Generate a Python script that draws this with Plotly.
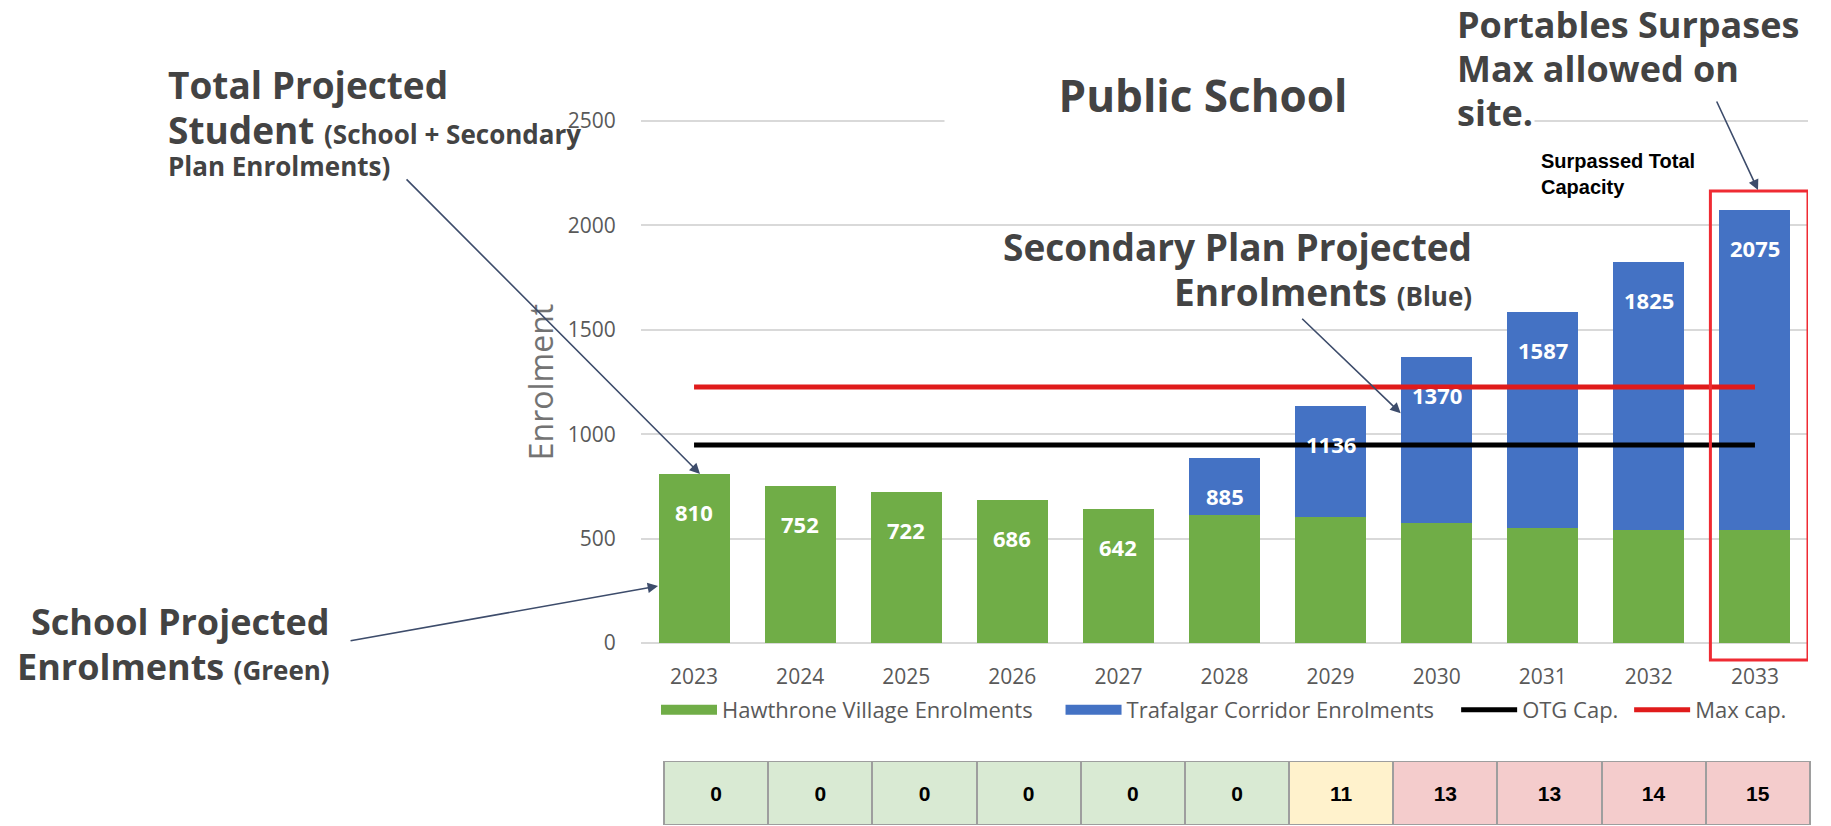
import plotly.graph_objects as go

W, H = 1831, 826

years = ["2023", "2024", "2025", "2026", "2027", "2028", "2029", "2030", "2031", "2032", "2033"]
hawthrone = [810, 752, 722, 686, 642, 613, 604, 575, 551, 541, 541]
trafalgar = [0, 0, 0, 0, 0, 272, 532, 795, 1036, 1284, 1534]
total_labels = [810, 752, 722, 686, 642, 885, 1136, 1370, 1587, 1825, 2075]
otg_cap = [948, 948, 948, 948, 948, 948, 948, 948, 948, 948, 948]
max_cap = [1226, 1226, 1226, 1226, 1226, 1226, 1226, 1226, 1226, 1226, 1226]
portables = [0, 0, 0, 0, 0, 0, 11, 13, 13, 14, 15]
portable_status = ["ok", "ok", "ok", "ok", "ok", "ok", "warn", "over", "over", "over", "over"]

GREEN = "#70AD47"
BLUE = "#4472C4"
STATUS_COLORS = {"ok": "#d9ead3", "warn": "#fff2cc", "over": "#f4cccc"}
TEXT_DARK = "#434343"
AXIS_GREY = "#595959"
BIG = "Open Sans"


def pad(n):
    # extra room between legend entries
    return "&nbsp;" * n


def px(x, y):
    # pixel position on the 1831x826 page -> paper fraction
    return x / W, 1 - y / H


fig = go.Figure()
fig.add_trace(go.Bar(x=years, y=hawthrone, name="Hawthrone Village Enrolments", marker_color=GREEN,
                     legendgroup="hv", showlegend=False))
fig.add_trace(go.Bar(x=years, y=trafalgar, name="Trafalgar Corridor Enrolments", marker_color=BLUE,
                     legendgroup="tc", showlegend=False))
# wide swatches for the bar series, like the Excel legend
fig.add_trace(go.Scatter(x=[None], y=[None], mode="lines", name="Hawthrone Village Enrolments" + pad(4),
                         legendgroup="hv", line=dict(color=GREEN, width=14)))
fig.add_trace(go.Scatter(x=[None], y=[None], mode="lines", name="Trafalgar Corridor Enrolments" + pad(3),
                         legendgroup="tc", line=dict(color=BLUE, width=14)))
fig.add_trace(go.Scatter(x=years, y=otg_cap, mode="lines", name="OTG Cap." + pad(1),
                         line=dict(color="black", width=5)))
fig.add_trace(go.Scatter(x=years, y=max_cap, mode="lines", name="Max cap.",
                         line=dict(color="#e01b1b", width=5)))

# portables table under the chart
fig.add_trace(
    go.Bar(
        x=years,
        y=[1] * len(years),
        width=1,
        text=portables,
        texttemplate="<b>%{text}</b>",
        textposition="inside",
        insidetextanchor="middle",
        textfont=dict(family="Liberation Sans", size=21, color="black"),
        marker=dict(color=[STATUS_COLORS[s] for s in portable_status],
                    line=dict(color="#9e9e9e", width=2)),
        xaxis="x2",
        yaxis="y2",
        showlegend=False,
        hoverinfo="skip",
    )
)

# value labels inside the bars (x given as category index: the years look numeric)
for i, val in enumerate(total_labels):
    fig.add_annotation(x=i, y=val, yshift=-38, text=f"<b>{val}</b>", showarrow=False,
                       font=dict(family=BIG, size=22, color="white"))

ann = []


def text(x, y, s, size, anchor="left", color=TEXT_DARK, family=BIG, **kw):
    xp, yp = px(x, y)
    ann.append(dict(xref="paper", yref="paper", x=xp, y=yp, text=s, showarrow=False,
                    xanchor=anchor, yanchor="middle", font=dict(family=family, size=size, color=color), **kw))


text(1203, 95, "<b>Public School</b>", 44, anchor="center", bgcolor="white", width=514)
text(166, 85, "<b>Total Projected</b>", 37)
text(166, 130, "<b>Student <span style='font-size:26px'>(School + Secondary</span></b>", 37)
text(166, 166, "<b>Plan Enrolments)</b>", 26)
text(1474, 246, "<b>Secondary Plan Projected</b>", 37, anchor="right")
text(1474, 291, "<b>Enrolments <span style='font-size:26px'>(Blue)</span></b>", 37, anchor="right")
text(332, 621, "<b>School Projected</b>", 36, anchor="right")
text(332, 666, "<b>Enrolments <span style='font-size:26px'>(Green)</span></b>", 36, anchor="right")
text(1455, 25, "<b>Portables Surpases</b>", 36)
text(1455, 69, "<b>Max allowed on</b>", 36)
text(1455, 113, "<b>site.</b>", 36, bgcolor="white")
text(1539, 174, "<b>Surpassed Total<br>Capacity</b>", 20, color="black", family="Liberation Sans", align="left")

ARROW = dict(showarrow=True, arrowhead=2, arrowsize=1.3, arrowwidth=1.6, arrowcolor="#3d4c6b",
             axref="pixel", ayref="pixel")
# total projected -> top of 2023 bar
ann.append(dict(x=0, y=810, xref="x", yref="y", xshift=6, ax=-295, ay=-296, text="", **ARROW))
# school projected -> green 2023 bar
ann.append(dict(x=0, y=273, xref="x", yref="y", xshift=-36, ax=-309, ay=55, text="", **ARROW))
# secondary plan -> blue 2030 bar
ann.append(dict(x=7, y=1100, xref="x", yref="y", xshift=-36, ax=-100, ay=-96, text="", **ARROW))
# portables -> red box
bx, by = px(1758, 190)
ann.append(dict(x=bx, y=by, xref="paper", yref="paper", ax=-42, ay=-90, text="", **ARROW))

for a in ann:
    fig.add_annotation(**a)

# red highlight box round 2033
fig.add_shape(type="rect", xref="x", yref="paper", x0=9.58, x1=10.5,
              y0=px(0, 660)[1], y1=px(0, 191)[1], line=dict(color="#ef2b33", width=3))

fig.update_layout(
    template="none",
    width=W,
    height=H,
    margin=dict(l=0, r=0, t=0, b=0),
    paper_bgcolor="white",
    plot_bgcolor="white",
    barmode="stack",
    bargap=0.33,
    font=dict(family=BIG, color=AXIS_GREY),
    showlegend=True,
    legend=dict(orientation="h", traceorder="normal", x=px(656, 0)[0], y=px(0, 710)[1],
                xanchor="left", yanchor="middle", itemwidth=56,
                font=dict(family=BIG, size=22, color=AXIS_GREY), bgcolor="rgba(0,0,0,0)"),
    xaxis=dict(domain=[641 / W, 1808 / W], type="category", range=[-0.5, 10.5], showgrid=False,
               zeroline=False, showline=False, ticks="outside", ticklen=13, tickcolor="rgba(0,0,0,0)",
               tickfont=dict(family=BIG, size=21, color=AXIS_GREY), automargin=False),
    yaxis=dict(domain=[px(0, 645.1)[1], px(0, 118.9)[1]], range=[-10, 2510], tick0=0, dtick=500,
               showgrid=True, gridcolor="#d9d9d9", gridwidth=1.5, zeroline=False, showline=False,
               ticks="outside", ticklen=20, tickcolor="rgba(0,0,0,0)",
               tickfont=dict(family=BIG, size=21, color=AXIS_GREY), automargin=False,
               title=dict(text="Enrolment", font=dict(family=BIG, size=32, color="#737373"), standoff=4)),
    xaxis2=dict(domain=[663 / W, 1811 / W], anchor="y2", type="category", visible=False,
                range=[-0.51, 10.51]),
    yaxis2=dict(domain=[px(0, 825)[1], px(0, 761)[1]], anchor="x2", range=[0, 1], visible=False),
)

fig.write_html("out.html", config={"displayModeBar": False},
               post_script="document.body.style.margin='0';document.body.style.overflow='hidden';")
